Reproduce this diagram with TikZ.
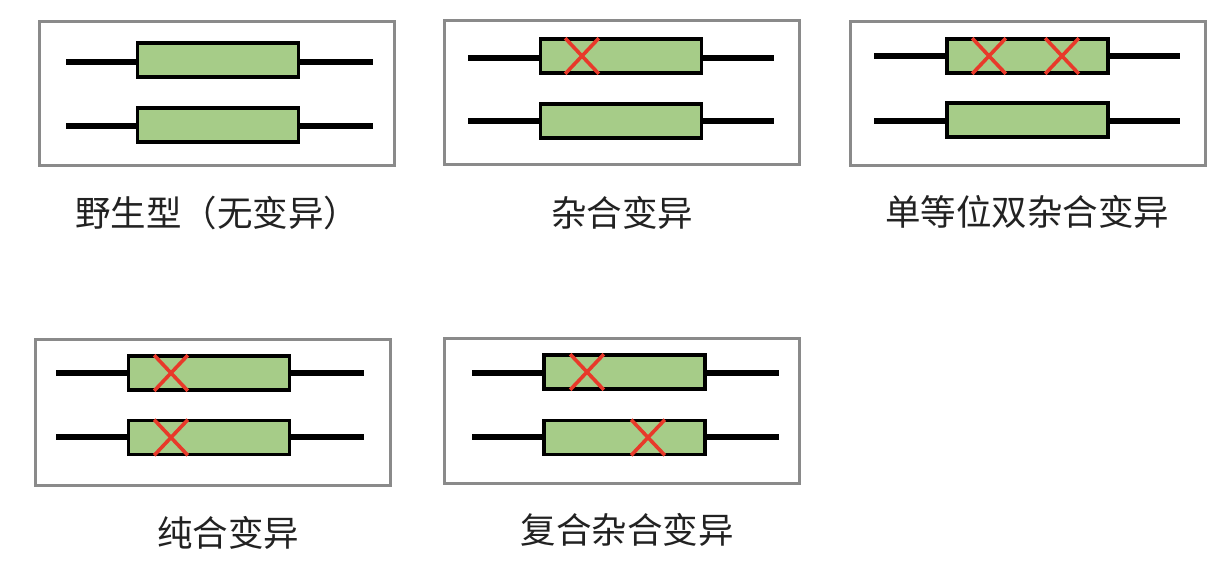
\documentclass[tikz,border=0pt]{standalone}
\usepackage{fontspec}
\setmainfont{Noto Sans CJK SC}
\usetikzlibrary{shapes.misc}
\definecolor{genegreen}{HTML}{A6CC88}
\definecolor{crossred}{HTML}{E8392A}
\definecolor{framegray}{HTML}{8A8A8A}
\definecolor{labelgray}{HTML}{222222}
\tikzset{
  panelframe/.style={draw=framegray, line width=3pt, fill=white, minimum width=355pt, minimum height=144pt, inner sep=0pt},
  chromline/.style={draw=black, line width=5.5pt},
  genebox/.style={draw=black, line width=3.4pt, fill=genegreen, minimum width=161pt, minimum height=34pt, inner sep=0pt},
  mutmark/.style={cross out, draw=crossred, line width=3.6pt, minimum width=30pt, minimum height=32pt, inner sep=0pt},
  caption/.style={text=labelgray, font=\fontsize{35.5}{40}\selectfont, inner sep=0pt}
}
\begin{document}
\begin{tikzpicture}[x=1pt,y=-1pt]
\useasboundingbox (0,0) rectangle (1210,584);
% ---------- Panel 1 ----------
\node[panelframe] (f1) at (217,93) {};
\coordinate (a1l) at (66,62); \coordinate (a1r) at (373,62);
\coordinate (b1l) at (66,126); \coordinate (b1r) at (373,126);
\draw[chromline] (a1l) -- (a1r);
\draw[chromline] (b1l) -- (b1r);
\node[genebox] (g1a) at (218,60) {};
\node[genebox] (g1b) at (218,125) {};
\node[caption] (t1) at (217,213) {野生型（无变异）};
% ---------- Panel 2 ----------
\node[panelframe] (f2) at (621.5,92) {};
\coordinate (a2l) at (468,58); \coordinate (a2r) at (774,58);
\coordinate (b2l) at (468,121); \coordinate (b2r) at (774,121);
\draw[chromline] (a2l) -- (a2r);
\draw[chromline] (b2l) -- (b2r);
\node[genebox] (g2a) at (621,56) {};
\node[genebox] (g2b) at (621,121) {};
\node[mutmark] (m2a) at (582,56) {};
\node[caption] (t2) at (622,213) {杂合变异};
% ---------- Panel 3 ----------
\node[panelframe] (f3) at (1027.5,93) {};
\coordinate (a3l) at (874,56); \coordinate (a3r) at (1180,56);
\coordinate (b3l) at (874,121); \coordinate (b3r) at (1180,121);
\draw[chromline] (a3l) -- (a3r);
\draw[chromline] (b3l) -- (b3r);
\node[genebox] (g3a) at (1027.5,56) {};
\node[genebox] (g3b) at (1027.5,120) {};
\node[mutmark] (m3a) at (989,56) {};
\node[mutmark] (m3b) at (1062,56) {};
\node[caption] (t3) at (1027,212) {单等位双杂合变异};
% ---------- Panel 4 ----------
\node[panelframe, minimum height=146pt] (f4) at (212.5,412) {};
\coordinate (a4l) at (56,373); \coordinate (a4r) at (364,373);
\coordinate (b4l) at (56,437); \coordinate (b4r) at (364,437);
\draw[chromline] (a4l) -- (a4r);
\draw[chromline] (b4l) -- (b4r);
\node[genebox] (g4a) at (209,373) {};
\node[genebox] (g4b) at (209,437.5) {};
\node[mutmark] (m4a) at (171,373) {};
\node[mutmark] (m4b) at (171,437.5) {};
\node[caption] (t4) at (228,533) {纯合变异};
% ---------- Panel 5 ----------
\node[panelframe, minimum height=145pt] (f5) at (621.5,410.5) {};
\coordinate (a5l) at (472,373); \coordinate (a5r) at (779,373);
\coordinate (b5l) at (472,437); \coordinate (b5r) at (779,437);
\draw[chromline] (a5l) -- (a5r);
\draw[chromline] (b5l) -- (b5r);
\node[genebox] (g5a) at (624.5,372) {};
\node[genebox] (g5b) at (624.5,437.5) {};
\node[mutmark] (m5a) at (587,372) {};
\node[mutmark] (m5b) at (648,437.5) {};
\node[caption] (t5) at (627,530) {复合杂合变异};
\end{tikzpicture}
\end{document}
